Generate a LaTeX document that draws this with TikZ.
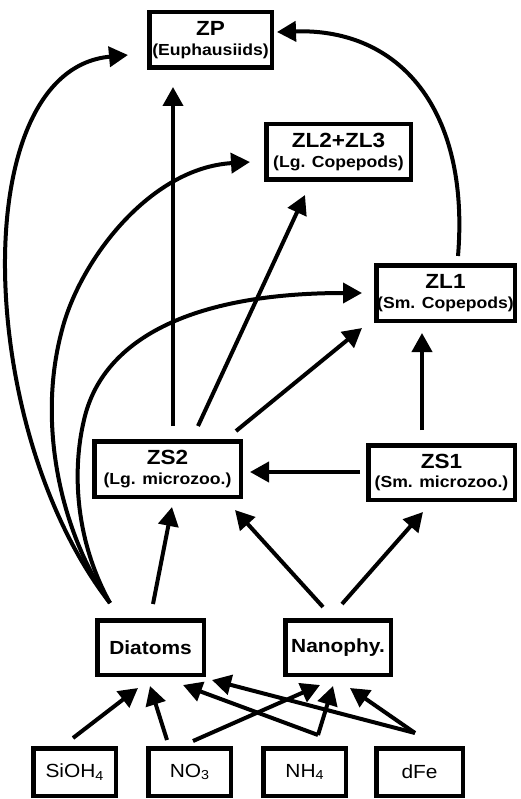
\documentclass[tikz,border=0pt]{standalone}
\usepackage{fontspec}
\setmainfont{Liberation Sans}
\newfontfamily\labfont[FakeStretch=1.1]{Liberation Sans}
\usetikzlibrary{arrows.meta,calc}
\newcommand\ttl[1]{{\fontsize{20.5}{20}\selectfont #1}}
\newcommand\sbs[1]{\raisebox{-2.5pt}{\fontsize{13}{12}\selectfont #1}}
\begin{document}
\begin{tikzpicture}[x=1pt,y=-1pt,
  box/.style={draw,line width=4.5pt,inner sep=0pt,align=center,
    font=\labfont\bfseries\fontsize{16}{19.5}\selectfont},
  phy/.style={draw,line width=4.5pt,inner sep=0pt,align=center,
    font=\labfont\bfseries\fontsize{19}{20}\selectfont},
  nut/.style={draw,line width=4.5pt,inner sep=0pt,align=center,
    minimum height=47.5pt,font=\labfont\fontsize{19}{20}\selectfont},
  arr/.style={line width=4pt,-{Triangle[length=19pt,width=20pt]}}]
\useasboundingbox (0,0) rectangle (521,799);
\fill[white] (0,0) rectangle (521,799);
% nodes
\node[box,minimum width=122.5pt,minimum height=55.5pt] (ZP) at (210.5,40) {\ttl{ZP}\\(Euphausiids)};
\node[box,minimum width=144.5pt,minimum height=55.5pt] (ZL23) at (338.5,152) {\ttl{ZL2+ZL3}\\(Lg. Copepods)};
\node[box,minimum width=138.5pt,minimum height=55.5pt] (ZL1) at (445.5,293) {\ttl{ZL1}\\(Sm. Copepods)};
\node[box,minimum width=146.5pt,minimum height=55.5pt] (ZS2) at (167.5,469) {\ttl{ZS2}\\(Lg. microzoo.)};
\node[box,minimum width=146.5pt,minimum height=54.5pt] (ZS1) at (441.5,472.5) {\ttl{ZS1}\\(Sm. microzoo.)};
\node[phy,minimum width=106.5pt,minimum height=54.5pt] (Dia) at (150.5,647.5) {Diatoms};
\node[phy,minimum width=105.5pt,minimum height=54.5pt] (Nan) at (338,647.5) {Nanophy.};
\node[nut,minimum width=82.5pt] (Si) at (74.5,772) {SiOH\sbs{4}};
\node[nut,minimum width=82.5pt] (NO3) at (189.5,772) {NO\sbs{3}};
\node[nut,minimum width=82.5pt] (NH4) at (304.5,772) {NH\sbs{4}};
\node[nut,minimum width=86.5pt] (dFe) at (419.5,772) {dFe};
% straight connectors
\draw[arr] ($(ZS2)+(5.5,-43)$) -- ($(ZP)+(-37.5,47)$);
\draw[arr] ($(ZS2)+(30.5,-43)$) -- ($(ZL23)+(-33.5,43)$);
\draw[arr] ($(ZS2)+(68.5,-38)$) -- ($(ZL1)+(-83.5,35)$);
\draw[arr] ($(ZS1)+(-19.5,-42.5)$) -- ($(ZL1)+(-23.5,40)$);
\draw[arr] ($(ZS1)+(-81.5,-0.5)$) -- ($(ZS2)+(82.5,3)$);
\draw[arr] ($(Dia)+(2.5,-43.5)$) -- ($(ZS2)+(4.5,38)$);
\draw[arr] ($(Nan)+(-15,-40.5)$) -- ($(ZS2)+(67.5,41)$);
\draw[arr] ($(Nan)+(4,-43.5)$) -- ($(ZS1)+(-18.5,39.5)$);
\draw[arr] ($(Si)+(-1.5,-34)$) -- ($(Dia)+(-12.5,40.5)$);
\draw[arr] ($(NO3)+(-22.5,-32)$) -- ($(Dia)+(-0.5,38.5)$);
\draw[arr] ($(NO3)+(3.5,-31)$) -- ($(Nan)+(-18,37.5)$);
\draw[arr] ($(NH4)+(13.5,-37)$) -- ($(Dia)+(32.5,37.5)$);
\draw[arr] ($(NH4)+(13.5,-37)$) -- ($(Nan)+(-5,38.5)$);
\draw[arr] ($(dFe)+(-4.5,-39)$) -- ($(Dia)+(61.5,32.5)$);
\draw[arr] ($(dFe)+(-4.5,-39)$) -- ($(Nan)+(12,40.5)$);
% curved connectors
\draw[arr] ($(ZL1)+(12.5,-37)$) .. controls (470,110) and (400,28) .. ($(ZP)+(66.5,-8)$);
\draw[arr] ($(Dia)+(-40.5,-44.5)$) .. controls (-25,430) and (-35,70) .. ($(ZP)+(-82.5,15)$);
\draw[arr] ($(Dia)+(-40.5,-44.5)$) .. controls (65,540) and (35,430) .. (62,330)
  .. controls (80,260) and (150,168) .. ($(ZL23)+(-88.5,10)$);
\draw[arr] ($(Dia)+(-40.5,-44.5)$) .. controls (75,540) and (72,470) .. (84,420)
  .. controls (102,340) and (190,293) .. ($(ZL1)+(-83.5,0)$);
\end{tikzpicture}
\end{document}
